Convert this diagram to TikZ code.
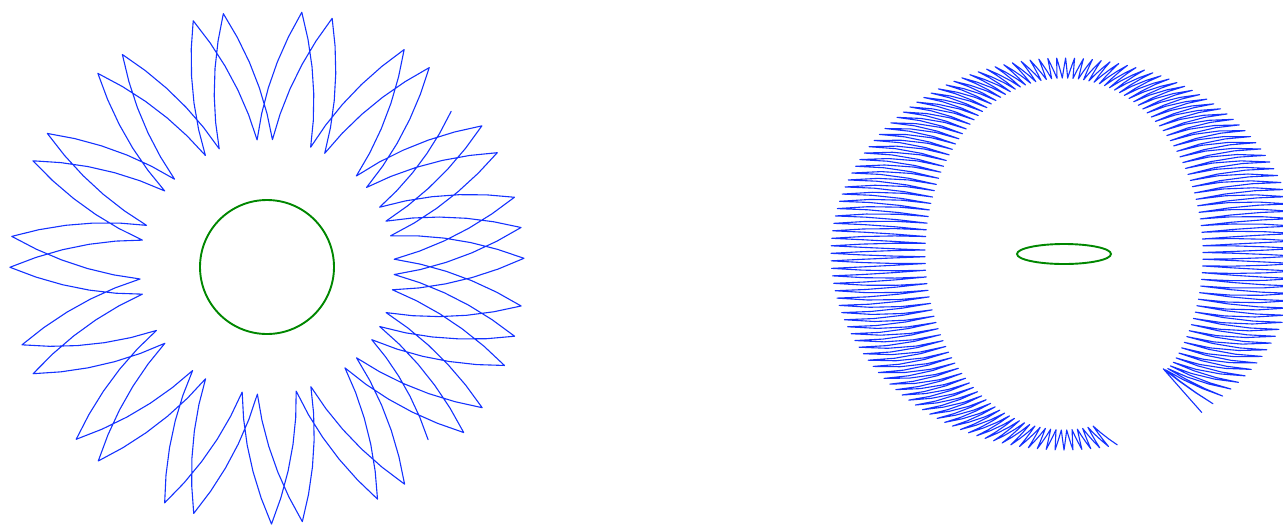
\documentclass[tikz,border=0pt]{standalone}
\definecolor{curveblue}{RGB}{20,50,255}
\definecolor{bodygreen}{RGB}{0,135,0}
\tikzset{
  traj/.style={curveblue, line width=0.55pt, line join=round, line cap=round},
  body/.style={bodygreen, line width=0.95pt}
}
\begin{document}
\begin{tikzpicture}[x=0.5pt,y=0.5pt]
\useasboundingbox (0,0) rectangle (1283,-525);
% left figure
\draw[body] (267,-267) circle (67);
\begin{scope}[shift={(267,-267)}]
\coordinate (lstart) at (40.2:241.1);
\draw[traj] (lstart)
  \foreach \idx [evaluate={\idx as \lA using 40.2-12.23*\idx},
               evaluate={\idx as \lR using 192.3+64.8*(1-2*mod(\idx,2))-21*equal(\idx,66)},
               remember=\lA as \lAp (initially 40.2),
               remember=\lR as \lRp (initially 241.1)] in {1,...,66}
  { -- ({0.8*\lAp+0.2*\lA}:{0.8*\lRp+0.2*\lR})
    -- ({0.6*\lAp+0.4*\lA}:{0.6*\lRp+0.4*\lR})
    -- ({0.4*\lAp+0.6*\lA}:{0.4*\lRp+0.6*\lR})
    -- ({0.2*\lAp+0.8*\lA}:{0.2*\lRp+0.8*\lR})
    -- (\lA:\lR) };
\end{scope}
% right figure
\draw[body] (1064,-254) ellipse (47 and 10);
\begin{scope}[shift={(1064,-254)}]
\coordinate (rstart) at (-49:210);
\draw[traj] (rstart)
  \foreach \idx [evaluate={\idx as \rth using -49+1.10*\idx},
               evaluate={\idx as \rsg using 1-2*mod(\idx,2)},
               evaluate={\idx as \rw using exp(-\idx/5)},
               evaluate={\idx as \rnr using \rsg*((1-\rw)*(0.47*cos(\rth)^2+0.10*sin(\rth)^2)+0.30*\rw)},
               evaluate={\idx as \rtg using (1-\rw)*\rsg*(-0.37)*sin(\rth)*cos(\rth)},
               evaluate={\idx as \rbase using 1.86-0.06*\rw},
               evaluate={\idx as \rR using 100*veclen(\rbase+\rnr,\rtg)},
               evaluate={\idx as \rA using \rth+atan2(\rtg,\rbase+\rnr)},
               remember=\rA as \rAp (initially -49),
               remember=\rR as \rRp (initially 210)] in {1,...,302}
  { -- ({0.67*\rAp+0.33*\rA}:{0.67*\rRp+0.33*\rR})
    -- ({0.33*\rAp+0.67*\rA}:{0.33*\rRp+0.67*\rR})
    -- (\rA:\rR) };
\end{scope}
\end{tikzpicture}
\end{document}
